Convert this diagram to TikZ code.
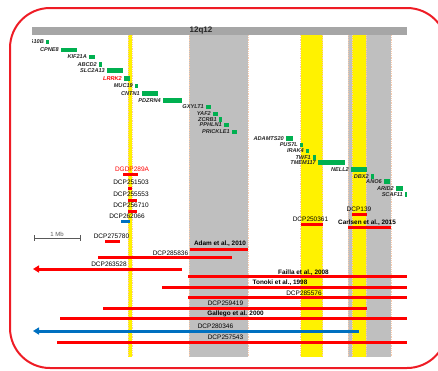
\documentclass[tikz,border=0pt]{standalone}
\usepackage{fontspec}
\setmainfont{Liberation Sans}
\usetikzlibrary{arrows.meta}
\definecolor{ggreen}{HTML}{00B050}
\definecolor{bandgray}{HTML}{BFBFBF}
\definecolor{hdrgray}{HTML}{A6A6A6}
\definecolor{peach}{HTML}{F8CBAD}
\definecolor{bblue}{HTML}{0070C0}
\definecolor{rred}{HTML}{FF0000}
\definecolor{frame}{HTML}{EE1C25}
\definecolor{gtext}{HTML}{262626}
\tikzset{
  genebox/.style={fill=ggreen, draw=none, inner sep=0pt, minimum height=4.5pt, anchor=west},
  genelab/.style={font=\fontsize{5.6}{6}\selectfont\bfseries\itshape, text=gtext, inner sep=0pt, text height=3.9pt, text depth=0pt, anchor=east},
  dcplab/.style={font=\fontsize{6.5}{7}\selectfont, text=black, inner sep=0pt, text height=4.6pt, text depth=0pt},
  reflab/.style={dcplab, font=\fontsize{6.4}{7}\selectfont\bfseries},
  bar/.style={line width=3pt, rred},
  bluebar/.style={line width=3pt, bblue},
  edgeline/.style={peach, line width=0.6pt, dash pattern=on 1pt off 0.8pt},
}
\begin{document}
\begin{tikzpicture}[x=1pt,y=-1pt]
\useasboundingbox (0,0) rectangle (438,370);
\clip (0,0) rectangle (438,370);
% header
\fill[hdrgray] (32,27) rectangle (407,35);
\node[font=\fontsize{8}{9}\selectfont\bfseries, text=gtext, inner sep=0pt] (hdr) at (201,31) {12q12};
% bands
\fill[yellow] (128,35) rectangle (132,357);
\fill[bandgray] (189,35) rectangle (248,357);
\fill[yellow] (300.7,35) rectangle (322.7,357);
\fill[bandgray] (348,35) rectangle (352,357);
\fill[yellow] (352,35) rectangle (366,357);
\fill[bandgray] (366,35) rectangle (391,357);
\foreach \xx in {128,132,189,248,300.7,322.7,348,352,366,391}
  \draw[edgeline] (\xx,35) -- (\xx,357);
% genes
\begin{scope}
\clip (32,35) rectangle (438,370);
\foreach \lab/\xa/\w/\yc/\col [count=\i] in {
  ALG10B/46/2.5/42/gtext,
  CPNE8/61/16/50/gtext,
  KIF21A/89/6/57/gtext,
  ABCD2/99/3/64.5/gtext,
  SLC2A13/107/16/70.5/gtext,
  LRRK2/124/6/78.5/rred,
  MUC19/135/3/86/gtext,
  CNTN1/142/16/93.5/gtext,
  PDZRN4/163/19/100.5/gtext,
  GXYLT1/206/5/107/gtext,
  YAF2/213/5/114/gtext,
  ZCRB1/219/3/119.5/gtext,
  PPHLN1/224/5/125/gtext,
  PRICKLE1/232/5/132/gtext,
  ADAMTS20/286/7/138.5/gtext,
  PUS7L/300/3/145/gtext,
  IRAK4/306/3/151/gtext,
  TWF1/313/3/157.5/gtext,
  TMEM117/318/27/162.5/gtext,
  NELL2/351/16/169.5/gtext,
  DBX2/371/3/176.5/gtext,
  ANO6/384/6/181.5/gtext,
  ARID2/396/7/188.5/gtext,
  SCAF11/405/1.5/194.5/gtext}
{
  \node[genebox, minimum width=\w pt] (b\i) at (\xa,\yc) {};
  \node[genelab, text=\col] (g\i) at ([xshift=-2pt]b\i.west) {\lab};
}
\end{scope}
% small bars near yellow band 1
\node[dcplab, text=rred] (l1) at (132,169) {DGDP289A};
\draw[bar] (123,174) -- (138,174);
\node[dcplab] (l2) at (131,182) {DCP251503};
\draw[bar] (128,188) -- (132,188);
\node[dcplab] (l3) at (131,194) {DCP255553};
\draw[bar] (128,200) -- (137,200);
\node[dcplab] (l4) at (131,205) {DCP256710};
\draw[bar] (128,211) -- (137,211);
\node[dcplab] (l5) at (127,216) {DCP262066};
\draw[bluebar] (121,221) -- (130,221);
% scale bar
\draw[gray!70!black, line width=0.6pt] (34,235) -- (34,241) (34,238) -- (80,238) (80,235) -- (80,241);
\node[font=\fontsize{6}{7}\selectfont, text=gray!70!black, inner sep=0pt] (mb) at (57,234) {1 Mb};
% right small bars
\node[dcplab] (l6) at (359,209) {DCP139};
\draw[bar] (352,214) -- (367,214);
\node[dcplab] (l7) at (310.5,219) {DCP250361};
\draw[bar] (301,224) -- (323,224);
\node[reflab] (l8) at (367,222) {Carlsen et al., 2015};
\draw[bar] (348,227) -- (391,227);
% lower bars
\node[dcplab] (l9) at (111.5,236) {DCP275780};
\draw[bar] (105,241) -- (120,241);
\node[reflab] (l10) at (220,243) {Adam et al., 2010};
\draw[bar] (190,249) -- (248,249);
\node[dcplab] (l11) at (170.5,253) {DCP285836};
\draw[bar] (98,257) -- (232,257);
\node[dcplab] (l12) at (109,264) {DCP263528};
\draw[bar, -{Triangle[length=6pt,width=7pt]}] (182,269) -- (33,269);
\node[reflab] (l13) at (303.5,272) {Failla et al., 2008};
\draw[bar] (188,276) -- (407,276);
\node[reflab] (l14) at (280,282) {Tonoki et al., 1998};
\draw[bar] (162,287) -- (407,287);
\node[dcplab] (l15) at (304,293) {DCP285576};
\draw[bar] (188,297) -- (407,297);
\node[dcplab] (l16) at (225.5,303) {DCP259419};
\draw[bar] (103,308) -- (367,308);
\node[reflab] (l17) at (235.5,313) {Gallego et al. 2000};
\draw[bar] (60,318) -- (407,318);
\node[dcplab] (l18) at (215.5,326) {DCP280346};
\draw[bluebar, -{Triangle[length=6pt,width=7pt]}] (359,331) -- (33,331);
\node[dcplab] (l19) at (225.5,337) {DCP257543};
\draw[bar] (57,342) -- (407,342);
% frame
\draw[frame, line width=2pt, rounded corners=40pt] (10,8) rectangle (447,368);
\end{tikzpicture}
\end{document}
